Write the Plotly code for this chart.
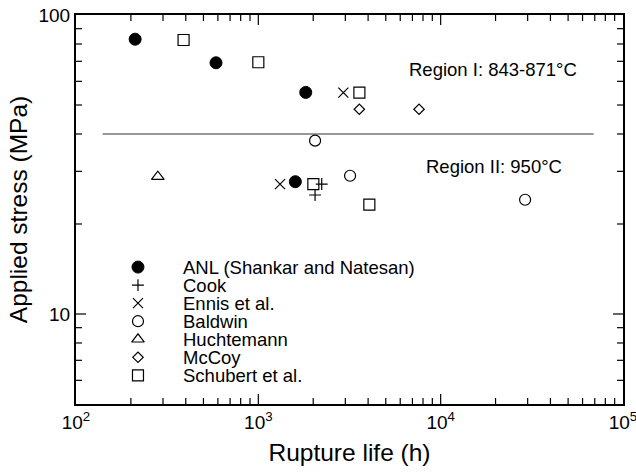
import math
import plotly.graph_objects as go

# Creep rupture data: rupture life (h) vs applied stress (MPa)
anl_life = [211, 586, 1820, 1596]
anl_stress = [83, 69.2, 55.1, 27.7]
cook_life = [2227, 2047]
cook_stress = [27.2, 25.0]
ennis_life = [2926, 1315]
ennis_stress = [55, 27.2]
baldwin_life = [2047, 3185, 29040]
baldwin_stress = [38.0, 29.0, 24.1]
huchtemann_life = [281]
huchtemann_stress = [28.8]
mccoy_life = [3580, 7610]
mccoy_stress = [48.4, 48.4]
schubert_life = [389, 1000, 3583, 2003, 4063]
schubert_stress = [82.5, 69.5, 55, 27.2, 23.2]

# Boundary between the two temperature regions
boundary_life = [140, 69000]
boundary_stress = [40, 40]

series_names = ["ANL (Shankar and Natesan)", "Cook", "Ennis et al.", "Baldwin",
                "Huchtemann", "McCoy", "Schubert et al."]

x_major = [100, 1000, 10000, 100000]
x_major_text = ["10<sup>2</sup>", "10<sup>3</sup>", "10<sup>4</sup>", "10<sup>5</sup>"]
x_minor = [m * d for d in (100, 1000, 10000) for m in range(2, 10)]
y_major = [10, 100]
y_major_text = ["10", "100"]
y_minor = [6, 7, 8, 9, 20, 30, 40, 50, 60, 70, 80, 90]

X_RANGE = [2, 5]
Y_RANGE = [math.log10(5), 2]

WIDTH, HEIGHT = 636, 474
MARGIN = dict(l=76, r=13, t=15, b=70)
PLOT_W = WIDTH - MARGIN["l"] - MARGIN["r"]
PLOT_H = HEIGHT - MARGIN["t"] - MARGIN["b"]

FONT = "Liberation Sans, Arial, sans-serif"
BLACK = "#000000"

datasets = [
    (anl_life, anl_stress, dict(symbol="circle", size=12, color=BLACK,
                                line=dict(color=BLACK, width=1))),
    (cook_life, cook_stress, dict(symbol="cross-thin", size=8.5, color=BLACK,
                                  line=dict(color=BLACK, width=1.2))),
    (ennis_life, ennis_stress, dict(symbol="x-thin", size=10, color=BLACK,
                                    line=dict(color=BLACK, width=1.2))),
    (baldwin_life, baldwin_stress, dict(symbol="circle-open", size=11, color=BLACK,
                                        line=dict(color=BLACK, width=1.2))),
    (huchtemann_life, huchtemann_stress, dict(symbol="triangle-up-open", size=11, color=BLACK,
                                              line=dict(color=BLACK, width=1.2))),
    (mccoy_life, mccoy_stress, dict(symbol="diamond-open", size=8, color=BLACK,
                                    line=dict(color=BLACK, width=1.2))),
    (schubert_life, schubert_stress, dict(symbol="square-open", size=11, color=BLACK,
                                          line=dict(color=BLACK, width=1.2))),
]


def frac_to_log(frac, rng):
    """Value on a log axis at a given fraction of its range."""
    return 10 ** (rng[0] + frac * (rng[1] - rng[0]))


def inside(v, rng):
    lv = math.log10(v)
    return rng[0] + 1e-9 < lv < rng[1] - 1e-9


fig = go.Figure()

fig.add_trace(go.Scatter(x=boundary_life, y=boundary_stress, mode="lines",
                         line=dict(color="#333333", width=1.2),
                         showlegend=False, hoverinfo="skip"))

for (life, stress, marker), name in zip(datasets, series_names):
    fig.add_trace(go.Scatter(x=life, y=stress, mode="markers", name=name,
                             marker=marker, showlegend=False))

# Key in the lower-left corner of the plot area: one row per series
key_x = 0.1133
key_text_x = 0.192
key_top = 0.352
key_step = 0.0464
key_rows = [key_top - i * key_step for i in range(len(series_names))]
for (life, stress, marker), name, ky in zip(datasets, series_names, key_rows):
    fig.add_trace(go.Scatter(x=[frac_to_log(key_x, X_RANGE)],
                             y=[frac_to_log(ky, Y_RANGE)], mode="markers",
                             marker=marker, showlegend=False, hoverinfo="skip"))
    fig.add_annotation(x=key_text_x, y=ky, xref="paper", yref="paper", text=name,
                       showarrow=False, xanchor="left", yanchor="middle",
                       font=dict(family=FONT, size=18.5, color=BLACK))

fig.add_annotation(x=0.762, y=0.860, xref="paper", yref="paper",
                   text="Region I: 843-871°C", showarrow=False,
                   xanchor="center", yanchor="middle",
                   font=dict(family=FONT, size=18.5, color=BLACK))
fig.add_annotation(x=0.764, y=0.610, xref="paper", yref="paper",
                   text="Region II: 950°C", showarrow=False,
                   xanchor="center", yanchor="middle",
                   font=dict(family=FONT, size=18.5, color=BLACK))

# Inward tick marks on all four sides (long at decades, short in between),
# drawn as one broken line through the log scales
MAJOR_LEN, MINOR_LEN = 10, 6
tick_x, tick_y = [], []
for vals, length in ((x_major, MAJOR_LEN), (x_minor, MINOR_LEN)):
    f = length / PLOT_H
    for v in vals:
        if not inside(v, X_RANGE):
            continue
        tick_x += [v, v, None, v, v, None]
        tick_y += [frac_to_log(0, Y_RANGE), frac_to_log(f, Y_RANGE), None,
                   frac_to_log(1, Y_RANGE), frac_to_log(1 - f, Y_RANGE), None]
for vals, length in ((y_major, MAJOR_LEN), (y_minor, MINOR_LEN)):
    f = length / PLOT_W
    for v in vals:
        if not inside(v, Y_RANGE):
            continue
        tick_x += [frac_to_log(0, X_RANGE), frac_to_log(f, X_RANGE), None,
                   frac_to_log(1, X_RANGE), frac_to_log(1 - f, X_RANGE), None]
        tick_y += [v, v, None, v, v, None]
fig.add_trace(go.Scatter(x=tick_x, y=tick_y, mode="lines", connectgaps=False,
                         line=dict(color=BLACK, width=1.2), cliponaxis=False,
                         showlegend=False, hoverinfo="skip"))

axis_common = dict(showgrid=False, zeroline=False, showline=True, linecolor=BLACK,
                   linewidth=2, mirror=True, ticks="", ticklabeloverflow="allow",
                   automargin=False,
                   tickfont=dict(family=FONT, size=19, color=BLACK))

fig.update_layout(
    width=WIDTH, height=HEIGHT,
    margin=MARGIN,
    paper_bgcolor="white", plot_bgcolor="white",
    showlegend=False,
    xaxis=dict(type="log", range=X_RANGE, tickmode="array", tickvals=x_major,
               ticktext=x_major_text,
               title=dict(text="Rupture life (h)", standoff=12,
                          font=dict(family=FONT, size=24.5, color=BLACK)),
               **axis_common),
    yaxis=dict(type="log", range=Y_RANGE, tickmode="array", tickvals=y_major,
               ticktext=y_major_text,
               title=dict(text="Applied stress (MPa)", standoff=4,
                          font=dict(family=FONT, size=24.5, color=BLACK)),
               **axis_common),
)

fig.write_html("out.html")
